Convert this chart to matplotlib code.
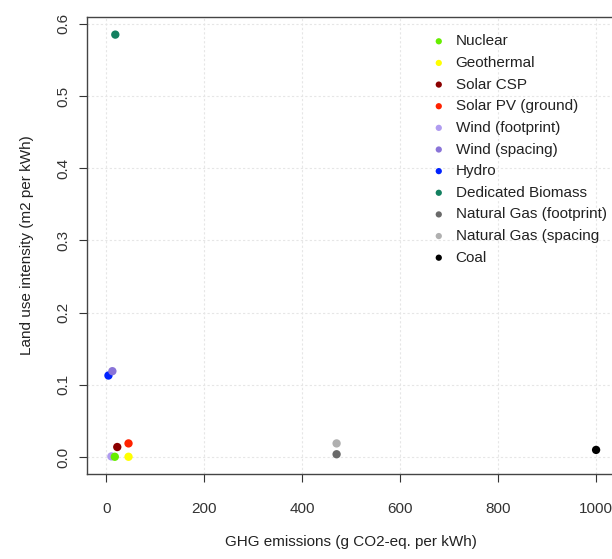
import matplotlib
matplotlib.use("Agg")
import matplotlib.pyplot as plt

plt.rcParams['font.family'] = ['Liberation Sans', 'DejaVu Sans']

# data
sources = ["Nuclear", "Geothermal", "Solar CSP", "Solar PV (ground)",
           "Wind (footprint)", "Wind (spacing)", "Hydro", "Dedicated Biomass",
           "Natural Gas (footprint)", "Natural Gas (spacing", "Coal"]
ghg = [17, 45, 22, 45, 10, 12, 4, 18, 470, 470, 1000]
land_use = [0.0005, 0.0005, 0.014, 0.019, 0.001, 0.119, 0.113, 0.585, 0.004, 0.019, 0.010]
colors = ["#66ee00", "#ffff00", "#8b0000", "#ff2200", "#b09cf0", "#8a74d8",
          "#0022ff", "#138060", "#6a6a6a", "#b0b0b0", "#000000"]

x_ticks = [0, 200, 400, 600, 800, 1000]
y_ticks = [0.0, 0.1, 0.2, 0.3, 0.4, 0.5, 0.6]

fig = plt.figure(figsize=(6.12, 5.59), dpi=100)
ax = fig.add_axes([0.142, 0.152, 0.864, 0.818])

# R-style dotted grid at the ticks
for xv in x_ticks:
    ax.axvline(xv, color="#e6e6e6", lw=0.8, ls=(0, (2, 2)), zorder=0)
for yv in y_ticks:
    ax.axhline(yv, color="#e6e6e6", lw=0.8, ls=(0, (2, 2)), zorder=0)

# earlier entries sit on top of later ones, as in the original
n = len(sources)
for i, (name, gx, lu, c) in enumerate(zip(sources, ghg, land_use, colors)):
    ax.scatter(gx, lu, s=36, color=c, label=name, zorder=3 + n - i, edgecolors="none")

ax.set_xlim(-40, 1040)
ax.set_ylim(-0.0234, 0.6097)
ax.set_xticks(x_ticks)
ax.set_yticks(y_ticks)
ax.set_yticklabels([f"{v:.1f}" for v in y_ticks], rotation=90, va="center")
ax.tick_params(labelsize=11, colors="#333333", length=6, width=0.8)
ax.tick_params(axis="x", pad=14)
ax.tick_params(axis="y", pad=6)

for sp in ax.spines.values():
    sp.set_color("#444444")
    sp.set_linewidth(1.0)

ax.set_xlabel("GHG emissions (g CO2-eq. per kWh)", fontsize=11, color="#222222", labelpad=14)
ax.set_ylabel("Land use intensity (m2 per kWh)", fontsize=11, color="#222222", labelpad=16)

leg = ax.legend(loc="upper left", bbox_to_anchor=(0.625, 0.975), frameon=False,
                fontsize=11, labelspacing=0.5, handletextpad=0.1,
                markerscale=0.75, borderaxespad=0)
for t in leg.get_texts():
    t.set_color("#222222")

fig.savefig("out.png", dpi=100)
